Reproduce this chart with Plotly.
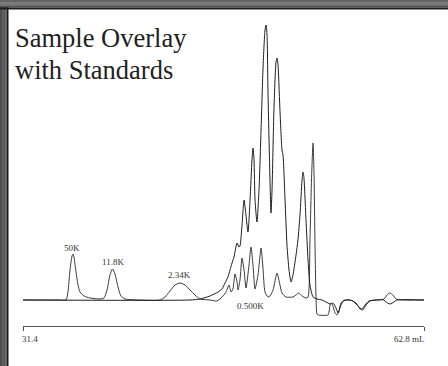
import plotly.graph_objects as go

# ---- data (elution volume in mL, detector response in arbitrary units) ----
std_x = [31.40, 34.30, 34.77, 34.92, 35.08, 35.24, 35.32, 35.39, 35.55, 35.71, 35.86, 36.18, 36.65,
         37.43, 37.74, 37.98, 38.21, 38.41, 38.60, 38.84, 39.07, 39.39, 40.56, 42.13, 42.52, 42.91,
         43.30, 43.69, 44.09, 44.48, 44.87, 45.26, 46.04, 46.59, 47.06, 47.30, 47.53, 47.69, 47.84,
         48.00, 48.16, 48.24, 48.39, 48.55, 48.71, 48.86, 49.10, 49.25, 49.41, 49.57, 49.80, 50.04,
         50.19, 50.35, 50.58, 50.74, 50.98, 51.29, 51.52, 51.68, 51.99, 52.54, 52.78, 53.01, 53.25,
         53.56, 53.72, 53.87, 53.99, 54.11, 54.19, 54.26, 54.34, 54.42, 54.50, 55.28, 55.36, 55.44,
         55.52, 55.67, 55.83, 55.99, 56.14, 56.30, 56.61, 57.01, 57.48, 57.79, 58.02, 58.26, 58.57,
         59.20, 59.67, 59.90, 60.14, 60.37, 60.61, 61.08, 62.80]
std_y = [0, 0, 0, 8, 30, 44, 46, 43, 28, 15, 8, 4, 2,
         1, 2, 10, 25, 31, 26, 13, 4, 1, 0, 0, 3, 9,
         15, 17, 15, 10, 5, 1, 0, -1, 4, 8, 15, 8, 11,
         26, 18, 10, 20, 42, 30, 12, 35, 53, 35, 11, 25, 52,
         32, 8, 3, 4, 10, 27, 15, 7, 3, 3, 5, 7, 4,
         2, 3, 60, 120, 157, 125, 60, 5, -14, -15, -15, -12, -5,
         -3, -6, -13, -15, -11, -3, 0, 0, -3, -9, -10, -5, -1,
         0, 1, 5, 7, 5, 1, 0, 0]

smp_x = [31.40, 44.48, 45.26, 46.04, 46.67, 46.98, 47.22, 47.45, 47.61, 47.77, 47.92, 48.16, 48.31,
         48.39, 48.55, 48.71, 48.86, 49.02, 49.18, 49.33, 49.41, 49.49, 49.57, 49.72, 49.88, 50.04,
         50.19, 50.35, 50.43, 50.51, 50.58, 50.74, 50.82, 50.90, 51.05, 51.21, 51.29, 51.37, 51.52,
         51.68, 51.76, 51.92, 52.07, 52.23, 52.39, 52.54, 52.78, 52.93, 53.09, 53.25, 53.33, 53.40,
         53.56, 53.72, 53.87, 54.11, 54.42, 54.81, 55.13, 55.44, 55.67, 55.91, 56.07, 56.22, 56.46,
         56.85, 57.24, 57.55, 57.79, 57.95, 58.18, 58.49, 58.96, 59.67, 59.82, 60.14, 60.45, 60.69,
         62.80]
smp_y = [0, 0, 1, 4, 8, 11, 17, 23, 30, 37, 43, 57, 53,
         54, 75, 100, 85, 68, 100, 140, 152, 140, 100, 78, 110, 170,
         230, 270, 275, 265, 210, 120, 87, 110, 190, 238, 242, 235, 190,
         150, 145, 100, 55, 30, 18, 25, 45, 60, 85, 120, 128, 122,
         80, 40, 15, 3, 1, 0, -2, -4, -3, -8, -13, -8, -1,
         0, -1, -5, -8, -9, -5, -1, 0, 0, -2, -4, -2, 0,
         0]

peak_labels = ["50K", "11.8K", "2.34K", "0.500K"]
peak_label_x = [35.24, 38.41, 43.69, 49.25]
peak_label_y = [52, 38, 25, -6]

x_range = [31.4, 62.8]
x_end_labels = ["31.4", "62.8 mL"]
title_lines = ["Sample Overlay", "with Standards"]

SERIF = "Liberation Serif"

fig = go.Figure()
fig.add_trace(go.Scatter(x=std_x, y=std_y, mode="lines",
                         line=dict(color="#3a3a3a", width=1, shape="spline", smoothing=0.6),
                         hoverinfo="skip", showlegend=False))
fig.add_trace(go.Scatter(x=smp_x, y=smp_y, mode="lines",
                         line=dict(color="#1e1e1e", width=1, shape="spline", smoothing=0.6),
                         hoverinfo="skip", showlegend=False))

W, H = 448, 366
ML, MR, MT, MB = 23, 24, 10, 40
PW, PH = W - ML - MR, H - MT - MB


def px(x):
    return (x - ML) / PW


def py(y):
    return (H - MB - y) / PH


annotations = []
for t, x, y in zip(peak_labels, peak_label_x, peak_label_y):
    annotations.append(dict(x=x, y=y, xref="x", yref="y", text=t, showarrow=False,
                            font=dict(family=SERIF, size=9, color="#333"),
                            xanchor="center", yanchor="middle"))

annotations.append(dict(x=px(20), y=py(339), xref="paper", yref="paper", text=x_end_labels[0],
                        showarrow=False, font=dict(family=SERIF, size=9, color="#333"),
                        xanchor="left", yanchor="middle"))
annotations.append(dict(x=px(427), y=py(339), xref="paper", yref="paper", text=x_end_labels[1],
                        showarrow=False, font=dict(family=SERIF, size=9, color="#333"),
                        xanchor="right", yanchor="middle"))

annotations.append(dict(x=px(13), y=py(38), xref="paper", yref="paper", text=title_lines[0],
                        showarrow=False, font=dict(family=SERIF, size=26.5, color="#222"),
                        xanchor="left", yanchor="middle"))
annotations.append(dict(x=px(13), y=py(70), xref="paper", yref="paper", text=title_lines[1],
                        showarrow=False, font=dict(family=SERIF, size=26.5, color="#222"),
                        xanchor="left", yanchor="middle"))

shapes = []
# left frame band
for (x0, x1, c) in [(0, 2, "#4e4e4e"), (2, 4, "#5e5e5e"), (4, 5.5, "#555555"),
                    (5.5, 6.5, "#3a3a3a"), (6.5, 8.5, "#1a1a1a")]:
    shapes.append(dict(type="rect", xref="paper", yref="paper", layer="above",
                       x0=px(x0), x1=px(x1), y0=py(H), y1=py(0), line=dict(width=0), fillcolor=c))
# top frame band
for (y0, y1, c) in [(0, 2, "#666666"), (2, 4, "#7c7c7c"), (4, 6, "#747474"),
                    (6, 7.5, "#505050"), (7.5, 9.5, "#1e1e1e")]:
    shapes.append(dict(type="rect", xref="paper", yref="paper", layer="above",
                       x0=px(0), x1=px(W), y0=py(y1), y1=py(y0), line=dict(width=0), fillcolor=c))

fig.update_layout(
    width=W, height=H,
    margin=dict(l=ML, r=MR, t=MT, b=MB, pad=0),
    paper_bgcolor="white", plot_bgcolor="white",
    font=dict(family=SERIF),
    xaxis=dict(range=x_range, showgrid=False, zeroline=False, showline=True,
               linecolor="#555", linewidth=1, ticks="outside", ticklen=4, tickcolor="#555",
               tickwidth=1, tickvals=x_range, showticklabels=False, fixedrange=True),
    yaxis=dict(range=[-26, 290], visible=False, fixedrange=True),
    annotations=annotations, shapes=shapes,
)

fig.write_html("out.html", config=dict(displayModeBar=False),
               post_script="document.body.style.margin='0';document.body.style.padding='0';")
